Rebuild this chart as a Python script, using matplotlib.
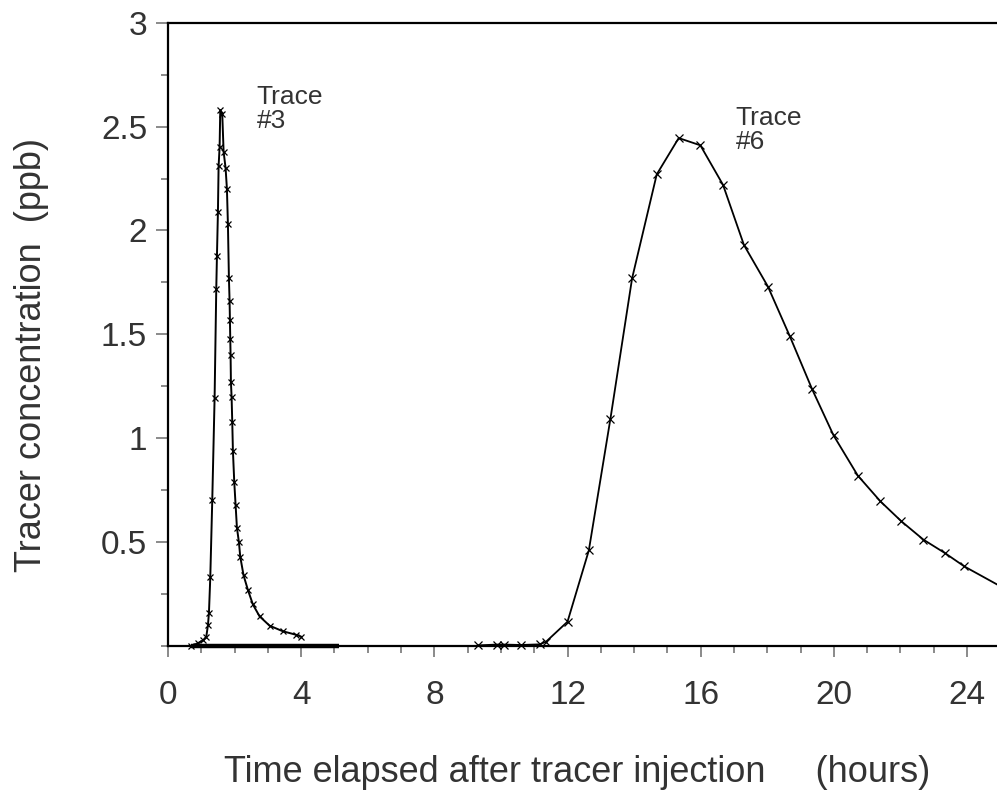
import matplotlib.pyplot as plt
from matplotlib.ticker import MultipleLocator

# Trace #3 (hours, ppb)
t3_hours = [0.70, 0.90, 1.05, 1.15, 1.20, 1.23, 1.27, 1.33, 1.40, 1.45, 1.47, 1.50,
            1.52, 1.55, 1.57, 1.63, 1.67, 1.73, 1.77, 1.80, 1.83, 1.85, 1.86, 1.87,
            1.88, 1.89, 1.91, 1.93, 1.95, 1.99, 2.03, 2.07, 2.13, 2.17, 2.27, 2.40,
            2.55, 2.75, 3.05, 3.45, 3.85, 4.00]
t3_conc = [0.00, 0.014, 0.027, 0.045, 0.10, 0.16, 0.33, 0.705, 1.196, 1.72, 1.875, 2.09,
           2.31, 2.40, 2.58, 2.56, 2.38, 2.30, 2.20, 2.03, 1.77, 1.66, 1.57, 1.48,
           1.40, 1.27, 1.20, 1.08, 0.94, 0.79, 0.68, 0.57, 0.50, 0.43, 0.34, 0.27,
           0.20, 0.143, 0.098, 0.071, 0.054, 0.045]

# background (zero) record under trace #3
base_hours = [0.70, 5.15]
base_conc = [0.0, 0.0]

# Trace #6
t6_hours = [9.30, 9.88, 10.09, 10.61, 11.16, 11.35, 12.00, 12.64, 13.29, 13.94, 14.68,
            15.34, 15.99, 16.67, 17.30, 18.02, 18.68, 19.35, 19.99, 20.72, 21.40, 22.03,
            22.69, 23.34, 23.92, 25.20]
t6_conc = [0.003, 0.007, 0.007, 0.005, 0.008, 0.02, 0.117, 0.46, 1.095, 1.77, 2.27,
           2.445, 2.41, 2.22, 1.93, 1.73, 1.49, 1.235, 1.014, 0.82, 0.696, 0.60,
           0.512, 0.447, 0.383, 0.27]

x_ticks = [0, 4, 8, 12, 16, 20, 24]
y_ticks = [0.5, 1, 1.5, 2, 2.5, 3]

fonts = ['Liberation Sans', 'DejaVu Sans']
txt = '#333333'

fig = plt.figure(figsize=(9.97, 7.95), dpi=100)
ax = fig.add_axes([0.1685, 0.1874, 0.8315, 0.784])

ax.plot(base_hours, base_conc, color='black', lw=3.2, solid_capstyle='butt',
        clip_on=False, zorder=3)
ax.plot(t3_hours, t3_conc, color='black', lw=1.4, marker='x', ms=4.5, mew=0.9,
        clip_on=False, zorder=3)
ax.plot(t6_hours, t6_conc, color='black', lw=1.3, marker='x', ms=5.5, mew=0.9,
        clip_on=False, zorder=3)

ax.set_xlim(0, 24.9)
ax.set_ylim(0, 3)
ax.xaxis.set_minor_locator(MultipleLocator(1))
ax.yaxis.set_minor_locator(MultipleLocator(0.25))
ax.set_yticks(y_ticks)
ax.set_yticklabels([f'{v:g}' for v in y_ticks])
ax.set_xticks(x_ticks)
ax.set_xticklabels([str(v) for v in x_ticks])

ax.spines['right'].set_visible(False)
for s in ['left', 'bottom', 'top']:
    ax.spines[s].set_linewidth(1.6)
ax.tick_params(which='both', direction='out', color='#777777', width=1.2)
ax.tick_params(axis='x', which='major', length=8, pad=16.5)
ax.tick_params(axis='y', which='major', length=8.5, pad=6.5)
ax.tick_params(which='minor', length=5)
for lab in ax.get_xticklabels() + ax.get_yticklabels():
    lab.set_family(fonts)
    lab.set_fontsize(24)
    lab.set_color(txt)

ax.set_xlabel('Time elapsed after tracer injection     (hours)', fontsize=26,
              family=fonts, color=txt, va='top')
ax.xaxis.set_label_coords(0.494, -0.175)
ax.set_ylabel('Tracer concentration  (ppb)', fontsize=26, family=fonts,
              color=txt, va='top')
ax.yaxis.set_label_coords(-0.186, 0.467)

ax.text(2.66, 2.70, 'Trace\n#3', fontsize=19, family=fonts, color=txt,
        va='top', ha='left', linespacing=1.0)
ax.text(17.05, 2.60, 'Trace\n#6', fontsize=19, family=fonts, color=txt,
        va='top', ha='left', linespacing=1.0)

fig.savefig('out.png', dpi=100)
